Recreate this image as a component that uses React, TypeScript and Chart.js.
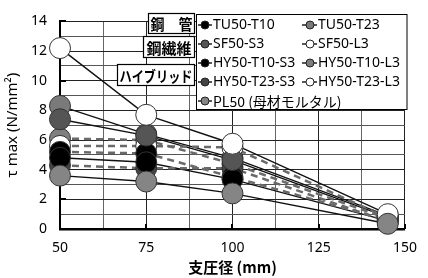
import React, { useEffect, useRef } from 'react';
import { Chart, registerables } from 'chart.js';

Chart.register(...registerables);

// ---- data ----
const diameters = [50, 75, 100, 145];
const seriesNames = [
  'TU50-T10', 'TU50-T23', 'SF50-S3', 'SF50-L3',
  'HY50-T10-S3', 'HY50-T10-L3', 'HY50-T23-S3', 'HY50-T23-L3', 'PL50 (母材モルタル)',
];
const tu50T10 = [4.8, 4.5, 3.35, 0.55];
const tu50T23 = [8.3, 6.4, 4.8, 0.9];
const sf50S3 = [7.4, 6.3, 4.65, 0.8];
const sf50L3 = [12.2, 7.7, 5.75, 1.0];
const hy50T10S3 = [5.2, 5.1, 3.5, 0.6];
const hy50T10L3 = [6.1, 6.0, 4.4, 0.7];
const hy50T23S3 = [4.3, 4.1, 4.1, 0.5];
const hy50T23L3 = [5.6, 5.6, 5.5, 0.75];
const pl50 = [3.6, 3.2, 2.4, 0.35];
const seriesValues = [tu50T10, tu50T23, sf50S3, sf50L3, hy50T10S3, hy50T10L3, hy50T23S3, hy50T23L3, pl50];
const groupLabels = ['鋼　管', '鋼繊維', 'ハイブリッド'];
const xAxisTitle = '支圧径 (mm)';
const yAxisTitle = 'τ max (N/mm²)';

// ---- styles ----
const markerFill = ['#000000', '#7a7a7a', '#555555', '#ffffff', '#000000', '#7f7f7f', '#444444', '#ffffff', '#858585'];
const dashedFlags = [false, false, false, false, true, true, true, true, false];
// marker stacking, bottom to top
const pointStack = [1, 5, 6, 7, 4, 0, 2, 3, 8];
const FONT = '"Noto Sans", "Noto Sans CJK JP", sans-serif';
const CJK = '"Noto Sans CJK JP", "Noto Sans", sans-serif';

const overlayPlugin = {
  id: 'overlay',
  beforeDatasetsDraw(chart: any) {
    const ctx = chart.ctx as CanvasRenderingContext2D;
    const xs = chart.scales.x;
    const ys = chart.scales.y;
    const area = chart.chartArea;
    ctx.save();
    ctx.strokeStyle = '#000';
    ctx.lineWidth = 2;
    for (let v = 2; v <= 14; v += 2) {
      const y = Math.round(ys.getPixelForValue(v));
      ctx.beginPath();
      ctx.moveTo(area.left, y);
      ctx.lineTo(area.left + 6, y);
      ctx.stroke();
    }
    for (let v = 75; v <= 150; v += 25) {
      const x = Math.round(xs.getPixelForValue(v));
      ctx.beginPath();
      ctx.moveTo(x, area.bottom);
      ctx.lineTo(x, area.bottom - 5);
      ctx.stroke();
    }
    ctx.restore();
  },
  afterDraw(chart: any) {
    const ctx = chart.ctx as CanvasRenderingContext2D;
    ctx.save();
    // legend box
    const bx = 196.5, by = 14.5, bw = 210.5, bh = 95;
    ctx.fillStyle = '#fff';
    ctx.fillRect(bx, by, bw, bh);
    ctx.strokeStyle = '#000';
    ctx.lineWidth = 1;
    ctx.strokeRect(bx, by, bw, bh);

    const rowY = [25, 44, 63, 82, 101];
    const colLine = [[198, 212, 205, 213], [302, 317, 310, 318]];
    ctx.textBaseline = 'middle';
    ctx.textAlign = 'left';
    seriesNames.forEach((name, i) => {
      const row = Math.floor(i / 2);
      const col = i % 2;
      const [x0, x1, cx, tx] = colLine[col];
      const y = rowY[row];
      ctx.strokeStyle = '#222';
      ctx.lineWidth = 1.5;
      ctx.beginPath();
      ctx.moveTo(x0, y);
      ctx.lineTo(x1, y);
      ctx.stroke();
      ctx.beginPath();
      ctx.arc(cx, y, 4, 0, Math.PI * 2);
      ctx.fillStyle = markerFill[i];
      ctx.fill();
      ctx.lineWidth = 1;
      ctx.strokeStyle = '#222';
      ctx.stroke();
      ctx.fillStyle = '#000';
      ctx.font = i === 8 ? `14px ${CJK}` : `14px ${FONT}`;
      ctx.fillText(name, tx, y + 0.5);
    });

    // group label boxes
    const boxes = [
      [148.5, 13.5, 46, 20],
      [143.5, 36.5, 51, 21],
      [117.5, 64.5, 77, 21],
    ];
    ctx.font = `bold 15px ${CJK}`;
    ctx.textAlign = 'center';
    groupLabels.forEach((t, i) => {
      const [x, y, w, h] = boxes[i];
      ctx.fillStyle = '#fff';
      ctx.fillRect(x, y, w, h);
      ctx.strokeStyle = '#000';
      ctx.lineWidth = 1.2;
      ctx.strokeRect(x, y, w, h);
      ctx.fillStyle = '#000';
      ctx.fillText(t, x + w / 2, y + h / 2 + 1, w - 4);
    });
    ctx.restore();
  },
};

export default function App() {
  const ref = useRef<HTMLCanvasElement>(null);
  useEffect(() => {
    document.body.style.margin = '0';
    const lineSets = seriesValues.map((vals, i) => ({
      label: seriesNames[i] + ' line',
      data: vals.map((v, j) => ({ x: diameters[j], y: v })),
      borderColor: dashedFlags[i] ? '#6a6a6a' : '#111',
      borderWidth: dashedFlags[i] ? 2.5 : 1.4,
      borderDash: dashedFlags[i] ? [7, 5] : [],
      pointRadius: 0,
      pointHoverRadius: 0,
      tension: 0,
      clip: false as const,
      order: 1000 - i,
    }));
    const pointSets = seriesValues.map((vals, i) => ({
      label: seriesNames[i],
      data: vals.map((v, j) => ({ x: diameters[j], y: v })),
      showLine: false,
      backgroundColor: markerFill[i],
      borderColor: '#333',
      pointBackgroundColor: markerFill[i],
      pointBorderColor: '#333',
      pointBorderWidth: 1,
      pointRadius: 10.5,
      pointHoverRadius: 10.5,
      clip: false as const,
      order: 100 - pointStack.indexOf(i),
    }));
    const chart = new Chart(ref.current!, {
      type: 'line',
      data: { datasets: [...lineSets, ...pointSets] },
      options: {
        animation: false,
        responsive: false,
        layout: { padding: { top: 12, right: 21, bottom: 0, left: 0 } },
        plugins: { legend: { display: false }, tooltip: { enabled: false } },
        scales: {
          x: {
            type: 'linear',
            min: 50,
            max: 150,
            ticks: {
              stepSize: 12.5,
              autoSkip: false,
              maxRotation: 0,
              color: '#000',
              padding: 11,
              font: { family: FONT, size: 14 },
              callback: (v: any) => (Number(v) % 25 === 0 ? String(v) : ''),
            },
            grid: {
              drawTicks: false,
              color: (c: any) => (c.tick && c.tick.value % 25 === 0 ? '#222' : '#666'),
              lineWidth: 1,
            },
            border: { color: '#000', width: 2.5 },
            title: {
              display: true,
              text: xAxisTitle,
              color: '#000',
              font: { family: CJK, size: 15, weight: 'bold' },
              padding: { top: 0, bottom: 2 },
            },
            afterFit: (s: any) => { s.height = 49; },
          },
          y: {
            type: 'linear',
            min: 0,
            max: 14,
            ticks: {
              stepSize: 1,
              autoSkip: false,
              color: '#000',
              padding: 13,
              font: { family: FONT, size: 14 },
              callback: (v: any) => (Number(v) % 2 === 0 ? String(v) : ''),
            },
            grid: {
              drawTicks: false,
              color: (c: any) => (c.tick && c.tick.value % 2 === 0 ? '#222' : '#555'),
              lineWidth: 1,
            },
            border: { color: '#000', width: 2 },
            title: {
              display: true,
              text: yAxisTitle,
              color: '#000',
              font: { family: FONT, size: 15 },
              padding: { top: 4, bottom: 0 },
            },
            afterFit: (s: any) => { s.width = 60; },
          },
        },
      },
      plugins: [overlayPlugin],
    });
    return () => chart.destroy();
  }, []);
  return (
    <canvas
      ref={ref}
      width={428}
      height={278}
      style={{ position: 'absolute', left: 0, top: 0, width: 428, height: 278 }}
    />
  );
}
